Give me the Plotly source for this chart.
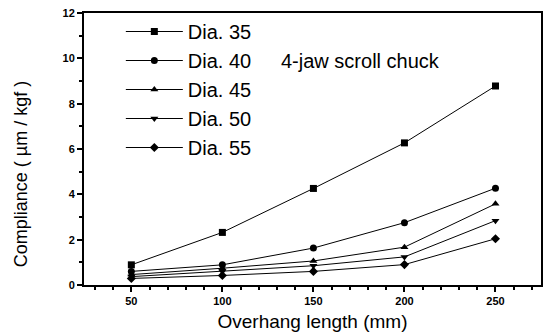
import plotly.graph_objects as go

x_vals = [50, 100, 150, 200, 250]
dia35 = [0.89, 2.32, 4.26, 6.27, 8.78]
dia40 = [0.60, 0.89, 1.63, 2.75, 4.27]
dia45 = [0.46, 0.74, 1.06, 1.67, 3.58]
dia50 = [0.37, 0.60, 0.85, 1.24, 2.84]
dia55 = [0.29, 0.42, 0.60, 0.90, 2.04]
names = ["Dia. 35", "Dia. 40", "Dia. 45", "Dia. 50", "Dia. 55"]
symbols = ["square", "circle", "triangle-up", "triangle-down", "diamond"]
series = [dia35, dia40, dia45, dia50, dia55]

FONT = "Liberation Sans, Arial, sans-serif"
W, H = 549, 336
ML, MR, MT, MB = 84, 6, 13, 51
PW, PH = W - ML - MR, H - MT - MB

fig = go.Figure()
for name, sym, ys in zip(names, symbols, series):
    fig.add_trace(go.Scatter(
        x=x_vals, y=ys, name=name, mode="lines+markers",
        line=dict(color="black", width=1),
        marker=dict(symbol=sym, size=7, color="black"),
    ))

fig.add_annotation(
    x=(362 - ML) / PW, y=1 - (61 - MT) / PH, xref="paper", yref="paper",
    text="4-jaw scroll chuck", showarrow=False,
    font=dict(family=FONT, size=20, color="black"),
    xanchor="center", yanchor="middle",
)
# y-axis title placed as in the reference (below the plot centre)
fig.add_annotation(
    x=(21 - ML) / PW, y=1 - (174 - MT) / PH, xref="paper", yref="paper",
    text="Compliance ( µm / kgf )", showarrow=False, textangle=-90,
    font=dict(family=FONT, size=18, color="black"),
    xanchor="center", yanchor="middle",
)

axis_common = dict(
    showline=True, linecolor="black", linewidth=2, mirror=True,
    ticks="outside", ticklen=5, tickwidth=1.5, tickcolor="black",
    showgrid=False, zeroline=False,
    tickfont=dict(family=FONT, size=11, color="black", weight="bold"),
)

fig.update_xaxes(
    range=[24, 275], tickvals=[50, 100, 150, 200, 250],
    minor=dict(dtick=10, tick0=0, ticks="outside", ticklen=3, tickcolor="black", tickwidth=1.5, showgrid=False),
    title=dict(text="Overhang length (mm)", font=dict(family=FONT, size=19, color="black"), standoff=8),
    **axis_common,
)
fig.update_yaxes(
    range=[0, 12], tickvals=[0, 2, 4, 6, 8, 10, 12],
    minor=dict(dtick=1, tick0=0, ticks="outside", ticklen=3, tickcolor="black", tickwidth=1.5, showgrid=False),
    **axis_common,
)

fig.update_layout(
    width=W, height=H,
    margin=dict(l=ML, r=MR, t=MT, b=MB),
    paper_bgcolor="white", plot_bgcolor="white",
    showlegend=True,
    legend=dict(
        x=(121 - ML) / PW, y=1 - (12 - MT) / PH, xanchor="left", yanchor="top",
        bgcolor="rgba(0,0,0,0)", borderwidth=0,
        font=dict(family=FONT, size=20, color="black"),
        itemwidth=57,
    ),
)

fig.write_html("out.html")
